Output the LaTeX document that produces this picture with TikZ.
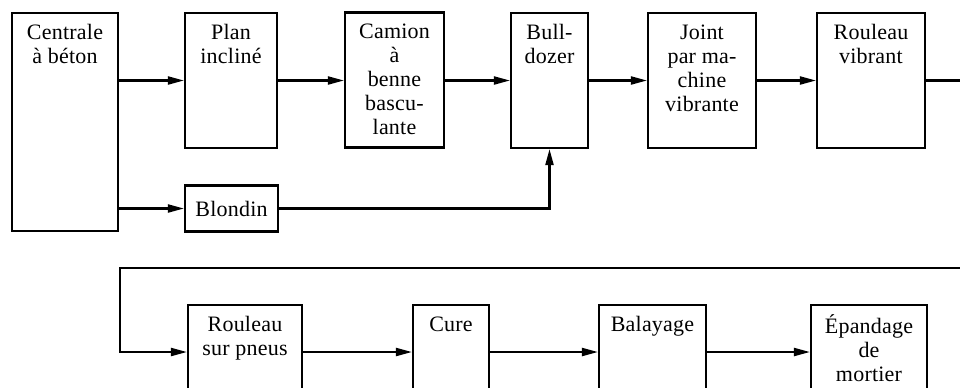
\documentclass[tikz,border=0pt]{standalone}
\usepackage{fontspec}
\setmainfont{Liberation Serif}[LetterSpace=1]
\usepackage{tikz}
\usetikzlibrary{arrows.meta}

\tikzset{
  stage/.style={draw, line width=1.6pt, inner sep=0pt},
  flow/.style={line width=1.6pt, -{Triangle[length=12pt,width=6pt]}},
  plain/.style={line width=1.6pt}
}
% text hung from the top of a box: width, height, lines
\newcommand{\stagetext}[3]{\parbox[c][#2][t]{#1}{\centering\vspace*{7pt}\strut #3}}

\begin{document}
\begin{tikzpicture}[x=0.75pt,y=0.75pt,yscale=-1,xscale=1,font=\fontsize{16.5}{18}\selectfont]
    \useasboundingbox (0,0) rectangle (960,387);
    \clip (0,0) rectangle (960,387);

    %Shape: Rectangle [top row]
    \node [stage] (centrale) at (65,122) {\stagetext{79.5pt}{163.5pt}{Centrale\\à béton}};
    \node [stage] (plan) at (231,80.5) {\stagetext{69pt}{101.25pt}{Plan\\incliné}};
    \node [stage, minimum width=69.75pt, minimum height=34.5pt] (blondin) at (231.5,208.5) {Blondin};
    \node [stage] (camion) at (394.5,80) {\stagetext{74.25pt}{101.25pt}{Camion\\à\\benne\\bascu-\\lante}};
    \node [stage] (bulldozer) at (549.5,80.5) {\stagetext{57.75pt}{101.25pt}{Bull-\\dozer}};
    \node [stage] (joint) at (702,80.5) {\stagetext{81pt}{101.25pt}{Joint\\par ma-\\chine\\vibrante}};
    \node [stage] (vibrant) at (871,80.5) {\stagetext{81pt}{101.25pt}{Rouleau\\vibrant}};

    %Shape: Rectangle [bottom row, cut by the page edge]
    \node [stage] (pneus) at (245,352) {\stagetext{85.5pt}{70.5pt}{Rouleau\\sur pneus}};
    \node [stage] (cure) at (451,352) {\stagetext{57pt}{70.5pt}{Cure}};
    \node [stage] (balayage) at (652.5,352) {\stagetext{80.25pt}{70.5pt}{Balayage}};
    \node [stage] (epandage) at (869,352) {\stagetext{87pt}{70.5pt}{Épandage\\de\\mortier}};

    %Straight Lines [top row]
    \draw [flow] (centrale.east |- plan.west) -- (plan.west);
    \draw [flow] (centrale.east |- blondin.west) -- (blondin.west);
    \draw [flow] (plan.east) -- (camion.west |- plan.east);
    \draw [flow] (camion.east |- bulldozer.west) -- (bulldozer.west);
    \draw [flow] (bulldozer.east) -- (joint.west);
    \draw [flow] (joint.east) -- (vibrant.west);
    \draw [flow] (blondin.east) -| (bulldozer.south);

    %Return line
    \coordinate (loopR) at (975,268);
    \coordinate (loopL) at (120,268);
    \draw [flow] (vibrant.east) -| (loopR) -- (loopL) |- (pneus.west);

    %Straight Lines [bottom row]
    \draw [flow] (pneus.east) -- (cure.west);
    \draw [flow] (cure.east) -- (balayage.west);
    \draw [flow] (balayage.east) -- (epandage.west);

\end{tikzpicture}
\end{document}
